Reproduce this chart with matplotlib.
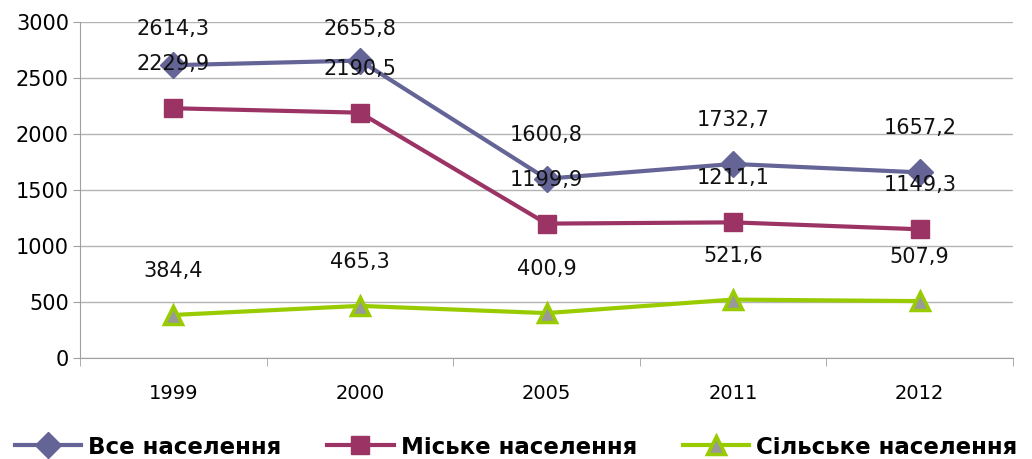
import matplotlib.pyplot as plt
import numpy as np
from matplotlib.ticker import FixedLocator, NullFormatter

years = ["1999", "2000", "2005", "2011", "2012"]
total = [2614.3, 2655.8, 1600.8, 1732.7, 1657.2]
urban = [2229.9, 2190.5, 1199.9, 1211.1, 1149.3]
rural = [384.4, 465.3, 400.9, 521.6, 507.9]

names = ["Все населення", "Міське населення", "Сільське населення"]
colors = ["#646497", "#9B3465", "#99CC00"]

fig = plt.figure(figsize=(10.32, 4.59), dpi=100)
ax = fig.add_axes([80 / 1032, 1 - 358 / 459, 933 / 1032, 336 / 459])

x = np.arange(len(years))
ax.plot(x, total, color=colors[0], lw=3, marker="D", ms=13,
        mfc=colors[0], mec=colors[0], label=names[0], zorder=3)
ax.plot(x, urban, color=colors[1], lw=3, marker="s", ms=13,
        mfc=colors[1], mec=colors[1], label=names[1], zorder=3)
ax.plot(x, rural, color=colors[2], lw=3, marker="^", ms=13,
        mfc="#999999", mec=colors[2], mew=2.5, label=names[2], zorder=3)

ax.set_xlim(-0.5, len(years) - 0.5)
ax.set_ylim(0, 3000)
ax.set_yticks(range(0, 3001, 500))
ax.grid(axis="y", color="#B3B3B3", lw=1)
ax.set_axisbelow(True)

ax.set_xticks(x)
ax.set_xticklabels(years)
ax.xaxis.set_minor_locator(FixedLocator(np.arange(-0.5, len(years), 1.0)))
ax.xaxis.set_minor_formatter(NullFormatter())
ax.tick_params(axis="x", which="major", length=0, pad=19, labelsize=14)
ax.tick_params(axis="x", which="minor", length=6, color="#A0A0A0")
ax.tick_params(axis="y", length=5, color="#A0A0A0", labelsize=15, pad=3)

for side in ["top", "right"]:
    ax.spines[side].set_visible(False)
for side in ["left", "bottom"]:
    ax.spines[side].set_color("#A0A0A0")

# value labels sit above each point, kept inside the plot area
top_px = ax.transData.transform((0, 3000))[1]
for series in (total, urban, rural):
    for xi, v in zip(x, series):
        py = ax.transData.transform((xi, v))[1]
        off = min(44, top_px - py - 7)
        ax.annotate(f"{v:.1f}".replace(".", ","), (xi, v),
                    xytext=(0, off * 72 / fig.dpi), textcoords="offset points",
                    ha="center", va="center", fontsize=15, color="#111111",
                    zorder=4)

leg = fig.legend(loc="center", bbox_to_anchor=(0.5, 1 - 447 / 459), ncol=3,
                 frameon=False, handlelength=2.9, handletextpad=0.3,
                 columnspacing=2.0, borderpad=0.2,
                 prop={"size": 16.5, "weight": "heavy"})

fig.savefig("out.png", dpi=100)
